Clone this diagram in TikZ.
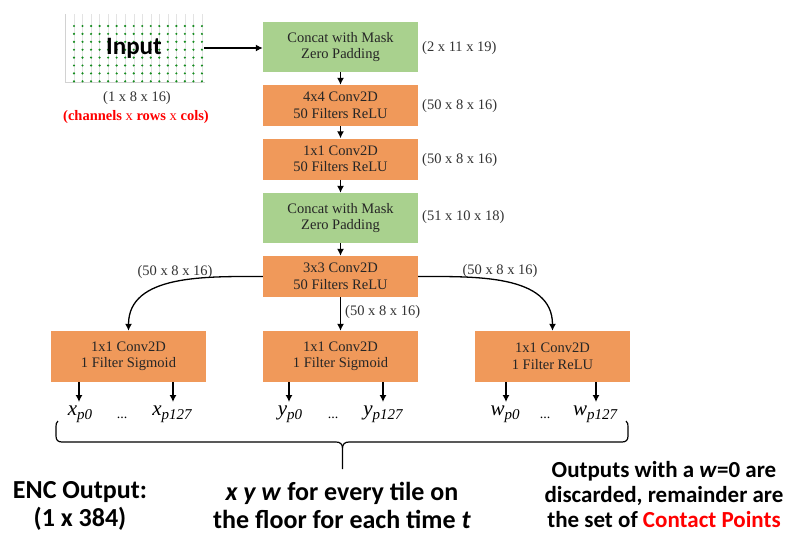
\documentclass[tikz,border=0pt]{standalone}
\usepackage{fontspec}
\setmainfont{Liberation Serif}
\newfontfamily\calib{Carlito}
\usetikzlibrary{arrows.meta}
\definecolor{boxgreen}{RGB}{169,209,142}
\definecolor{boxorange}{RGB}{240,153,90}
\definecolor{dotgreen}{RGB}{20,140,30}
\definecolor{myred}{RGB}{255,0,0}
\newcommand\outl[2]{#1\raisebox{-4.5pt}{\fontsize{15}{15}\selectfont #2}}
\begin{document}
\begin{tikzpicture}[x=1pt,y=-1pt,
  box/.style={minimum width=155pt,inner sep=0pt,align=center,font=\fontsize{14.5}{16.5}\selectfont,text=black!85},
  gbox/.style={box,fill=boxgreen,minimum height=50pt},
  obox/.style={box,fill=boxorange,minimum height=41pt},
  bbox/.style={box,fill=boxorange,minimum height=51pt},
  dimlab/.style={font=\fontsize{14.5}{16.5}\selectfont,text=black!80,inner sep=0pt},
  arr/.style={-{Latex[length=7pt,width=7pt]},line width=1.3pt},
  outlab/.style={anchor=base,inner sep=0pt,font=\fontsize{21}{21}\selectfont\itshape},
  dotlab/.style={anchor=base,inner sep=0pt,font=\fontsize{14}{14}\selectfont},
  bigtxt/.style={anchor=base,inner sep=0pt,align=center,font=\calib\bfseries\fontsize{26}{27.5}\selectfont},
  righttxt/.style={anchor=base,inner sep=0pt,align=center,font=\calib\bfseries\fontsize{23}{25}\selectfont},
]
\useasboundingbox (0,0) rectangle (788,544);
\fill[white] (0,0) rectangle (788,544);

% input grid picture
\foreach \i in {0,...,15}{
  \draw[gray!22,line width=0.4pt] ({74+\i*8.53},14) -- ({74+\i*8.53},82);
}
\draw[gray!35,line width=0.5pt] (65,14) -- (65,82) -- (205,82);
\foreach \i in {0,...,15}{
  \foreach \j in {0,...,7}{
    \fill[dotgreen] ({74+\i*8.53},{26+\j*7.9}) circle (1.2);
  }
}
\node[inner sep=0pt,font=\calib\bfseries\fontsize{25}{25}\selectfont] (inp) at (134,48) {Input};
\coordinate (inpR) at (204,48);
\node[dimlab] (indim) at (137,98) {(1 x 8 x 16)};
\node[dimlab,text=myred] (inred) at (136,117) {\textbf{(channels} x \textbf{rows} x \textbf{cols)}};

% main column
\node[gbox] (g1) at (340.5,47) {Concat with Mask\\Zero Padding};
\node[obox] (o1) at (340.5,105.5) {4x4 Conv2D\\50 Filters ReLU};
\node[obox] (o2) at (340.5,159) {1x1 Conv2D\\50 Filters ReLU};
\node[gbox] (g2) at (340.5,218) {Concat with Mask\\Zero Padding};
\node[obox] (o3) at (340.5,276.5) {3x3 Conv2D\\50 Filters ReLU};

\node[dimlab,anchor=west] (d1) at (422,48) {(2 x 11 x 19)};
\node[dimlab,anchor=west] (d2) at (422,106) {(50 x 8 x 16)};
\node[dimlab,anchor=west] (d3) at (422,160) {(50 x 8 x 16)};
\node[dimlab,anchor=west] (d4) at (422,217) {(51 x 10 x 18)};
\node[dimlab,anchor=west] (d5) at (345,312) {(50 x 8 x 16)};
\node[dimlab] (d6) at (175,272) {(50 x 8 x 16)};
\node[dimlab] (d7) at (500,271) {(50 x 8 x 16)};

\draw[arr] (inpR) -- (inpR -| g1.west);
\draw[arr] (g1) -- (o1);
\draw[arr] (o1) -- (o2);
\draw[arr] (o2) -- (g2);
\draw[arr] (g2) -- (o3);

% branch boxes
\node[bbox] (b1) at (128.5,356.5) {1x1 Conv2D\\1 Filter Sigmoid};
\node[bbox] (b2) at (340.5,356.5) {1x1 Conv2D\\1 Filter Sigmoid};
\node[bbox] (b3) at (552.5,356.5) {1x1 Conv2D\\1 Filter ReLU};

\draw[arr] (o3.west) to[out=180,in=90] (b1.north);
\draw[arr] (o3.east) to[out=0,in=90] (b3.north);
\draw[arr] (o3) -- (b2);

% outputs
\node[outlab] (x0) at (80,415) {\outl{x}{p0}};
\node[outlab] (x1) at (172,415) {\outl{x}{p127}};
\node[outlab] (y0) at (290,415) {\outl{y}{p0}};
\node[outlab] (y1) at (383,415) {\outl{y}{p127}};
\node[outlab] (w0) at (505,415) {\outl{w}{p0}};
\node[outlab] (w1) at (595,415) {\outl{w}{p127}};
\node[dotlab] (dx) at (122,418) {...};
\node[dotlab] (dy) at (333,418) {...};
\node[dotlab] (dw) at (545,418) {...};

\coordinate (ax0) at (79,402);
\coordinate (ax1) at (173,402);
\coordinate (ay0) at (289,402);
\coordinate (ay1) at (383,402);
\coordinate (aw0) at (506,402);
\coordinate (aw1) at (596,402);
\foreach \c in {ax0,ax1}{\draw[arr] (b1.south -| \c) -- (\c);}
\foreach \c in {ay0,ay1}{\draw[arr] (b2.south -| \c) -- (\c);}
\foreach \c in {aw0,aw1}{\draw[arr] (b3.south -| \c) -- (\c);}

% brace
\draw[line width=1.2pt,line join=round]
  (58,421) .. controls (56,423) and (56,424) .. (56,427) -- (56,436)
  .. controls (56,440) and (58,442) .. (62,442) -- (336,442)
  .. controls (340,442) and (342.5,444) .. (342.5,448) -- (342.5,469);
\draw[line width=1.2pt,line join=round]
  (342.5,448) .. controls (342.5,444) and (345,442) .. (349,442) -- (622,442)
  .. controls (626,442) and (628,440) .. (628,436) -- (628,427)
  .. controls (628,424) and (628,423) .. (626,421);

% bottom texts (anchor base = last line's baseline)
\node[bigtxt] (enc) at (80,526) {ENC Output:\\(1 x 384)};
\node[bigtxt] (xyw) at (342,528) {\textit{x y w} for every tile on\\the floor for each time \textit{t}};
\node[righttxt] (disc) at (664,527) {Outputs with a \textit{w}=0 are\\discarded, remainder are\\the set of \textcolor{myred}{Contact Points}};
\end{tikzpicture}
\end{document}
